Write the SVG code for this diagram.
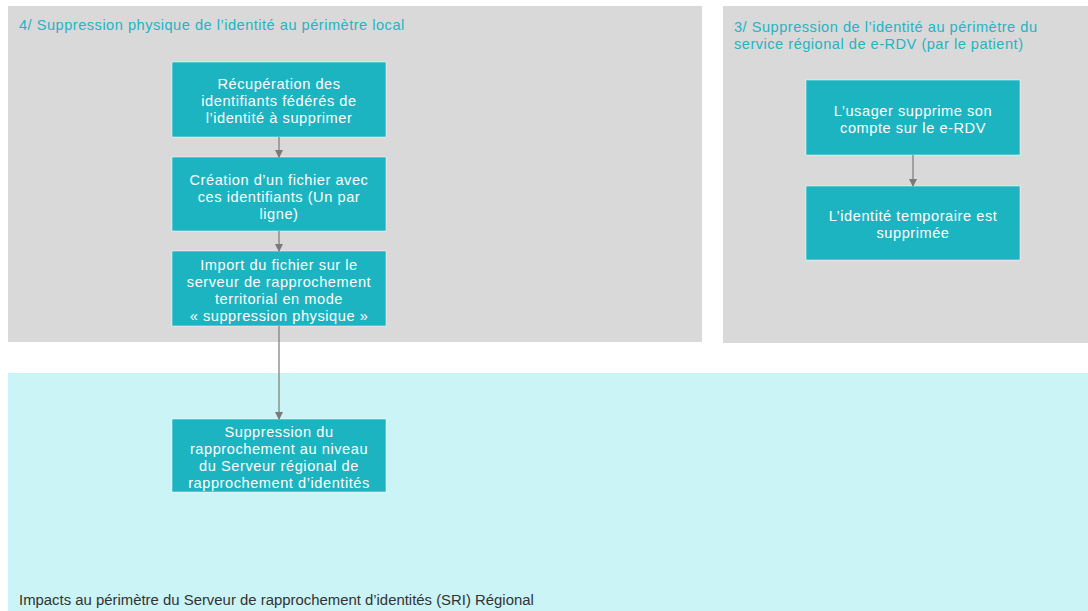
<svg xmlns="http://www.w3.org/2000/svg" width="1088" height="611" viewBox="0 0 1088 611">
<style>
.panel{fill:#d9d9d9}
.zone{fill:#caf4f6}
.box{fill:#1cb4c0;stroke:#ffffff;stroke-width:0.5}
.bt{font-family:"Liberation Sans",Arial,sans-serif;font-size:14.6px;letter-spacing:0.55px;fill:#ffffff;text-anchor:middle}
.title{font-family:"Liberation Sans",Arial,sans-serif;font-size:14.6px;letter-spacing:0.5px;fill:#24b4c4}
.foot{font-family:"Liberation Sans",Arial,sans-serif;font-size:14.9px;fill:#333333}
.conn{stroke:#7a7a7a;stroke-width:1.2;fill:none;marker-end:url(#ah)}
</style>
<defs>
<marker id="ah" markerWidth="8" markerHeight="8" refX="7" refY="4" orient="auto" markerUnits="userSpaceOnUse">
<path d="M0,0 L8,4 L0,8 Z" fill="#7a7a7a"/>
</marker>
</defs>
<rect width="1088" height="611" fill="#ffffff"/>
<g id="panel-local">
<rect class="panel" x="8" y="6" width="694" height="336"/>
<text class="title" x="19" y="30">4/ Suppression physique de l’identité au périmètre local</text>
</g>
<g id="panel-erdv">
<rect class="panel" x="723" y="6" width="365" height="337"/>
<text class="title" x="734" y="32"><tspan x="734" y="32">3/ Suppression de l’identité au périmètre du</tspan><tspan x="734" y="49">service régional de e-RDV (par le patient)</tspan></text>
</g>
<g id="panel-sri">
<rect class="zone" x="8" y="373" width="1080" height="238"/>
<text class="foot" x="19" y="605">Impacts au périmètre du Serveur de rapprochement d’identités (SRI) Régional</text>
</g>
<g id="node-recuperation">
<rect class="box" x="172" y="62" width="214" height="75"/>
<text class="bt"><tspan x="279" y="89">Récupération des</tspan><tspan x="279" y="106">identifiants fédérés de</tspan><tspan x="279" y="123">l’identité à supprimer</tspan></text>
</g>
<g id="node-creation">
<rect class="box" x="172" y="157" width="214" height="74"/>
<text class="bt"><tspan x="279" y="185">Création d’un fichier avec</tspan><tspan x="279" y="202">ces identifiants (Un par</tspan><tspan x="279" y="219">ligne)</tspan></text>
</g>
<g id="node-import">
<rect class="box" x="172" y="251" width="214" height="75"/>
<text class="bt"><tspan x="279" y="270">Import du fichier sur le</tspan><tspan x="279" y="287">serveur de rapprochement</tspan><tspan x="279" y="304">territorial en mode</tspan><tspan x="279" y="321">« suppression physique »</tspan></text>
</g>
<g id="node-suppression-sri">
<rect class="box" x="172" y="419" width="214" height="73"/>
<text class="bt"><tspan x="279" y="437">Suppression du</tspan><tspan x="279" y="454">rapprochement au niveau</tspan><tspan x="279" y="471">du Serveur régional de</tspan><tspan x="279" y="488">rapprochement d’identités</tspan></text>
</g>
<g id="node-usager">
<rect class="box" x="806" y="80" width="214" height="75"/>
<text class="bt"><tspan x="913" y="116">L’usager supprime son</tspan><tspan x="913" y="133">compte sur le e-RDV</tspan></text>
</g>
<g id="node-identite-temp">
<rect class="box" x="806" y="186" width="214" height="74"/>
<text class="bt"><tspan x="913" y="221">L’identité temporaire est</tspan><tspan x="913" y="238">supprimée</tspan></text>
</g>
<g id="connectors">
<line class="conn" x1="279" y1="137" x2="279" y2="157"/>
<line class="conn" x1="279" y1="231" x2="279" y2="251"/>
<line class="conn" x1="279" y1="326" x2="279" y2="419"/>
<line class="conn" x1="913" y1="155" x2="913" y2="186"/>
</g>
</svg>
